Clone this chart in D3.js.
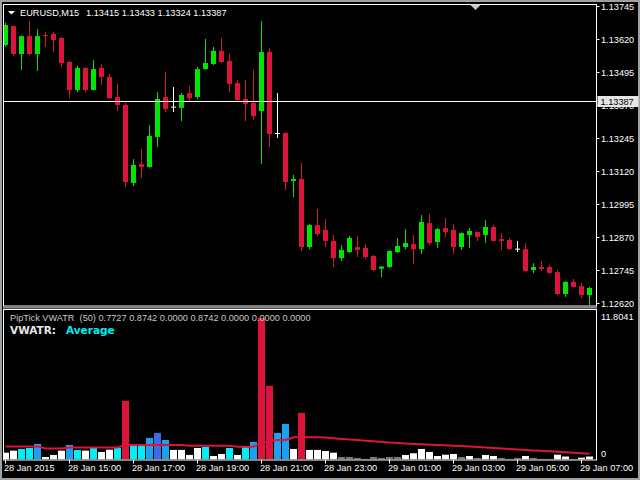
<!DOCTYPE html>
<html><head><meta charset="utf-8">
<script src="https://cdn.jsdelivr.net/npm/d3@7"></script>
<style>html,body{margin:0;padding:0;background:#000;overflow:hidden} text{white-space:pre}</style>
</head><body>
<svg id="c" width="640" height="480" xmlns="http://www.w3.org/2000/svg"></svg>
<script>
// ---------- DATA ----------
const times = [
"28.01 13:00","28.01 13:15","28.01 13:30","28.01 13:45","28.01 14:00","28.01 14:15","28.01 14:30","28.01 14:45",
"28.01 15:00","28.01 15:15","28.01 15:30","28.01 15:45","28.01 16:00","28.01 16:15","28.01 16:30","28.01 16:45",
"28.01 17:00","28.01 17:15","28.01 17:30","28.01 17:45","28.01 18:00","28.01 18:15","28.01 18:30","28.01 18:45",
"28.01 19:00","28.01 19:15","28.01 19:30","28.01 19:45","28.01 20:00","28.01 20:15","28.01 20:30","28.01 20:45",
"28.01 21:00","28.01 21:15","28.01 21:30","28.01 21:45","28.01 22:00","28.01 22:15","28.01 22:30","28.01 22:45",
"28.01 23:00","28.01 23:15","28.01 23:30","28.01 23:45","29.01 00:00","29.01 00:15","29.01 00:30","29.01 00:45",
"29.01 01:00","29.01 01:15","29.01 01:30","29.01 01:45","29.01 02:00","29.01 02:15","29.01 02:30","29.01 02:45",
"29.01 03:00","29.01 03:15","29.01 03:30","29.01 03:45","29.01 04:00","29.01 04:15","29.01 04:30","29.01 04:45",
"29.01 05:00","29.01 05:15","29.01 05:30","29.01 05:45","29.01 06:00","29.01 06:15","29.01 06:30","29.01 06:45",
"29.01 07:00","29.01 07:15"];

const open = [1.13597,1.13669,1.13563,1.13631,1.13563,1.13635,1.13639,1.13624,1.13533,1.13427,
1.13510,1.13427,1.13510,1.13476,1.13400,1.13370,1.13075,1.13146,1.13135,1.13249,
1.13400,1.13362,1.13359,1.13415,1.13400,1.13506,1.13525,1.13575,1.13537,1.13453,
1.13393,1.13378,1.13347,1.13571,1.13262,1.13264,1.13082,1.13090,1.12832,1.12915,
1.12897,1.12855,1.12790,1.12813,1.12832,1.12828,1.12798,1.12750,1.12756,1.12813,
1.12832,1.12843,1.12824,1.12923,1.12851,1.12904,1.12897,1.12832,1.12878,1.12889,
1.12878,1.12908,1.12862,1.12859,1.12824,1.12824,1.12745,1.12756,1.12756,1.12737,
1.12654,1.12700,1.12684,1.12650];

const high = [1.13681,1.13671,1.13633,1.13688,1.13658,1.13646,1.13646,1.13628,1.13537,1.13518,
1.13514,1.13540,1.13525,1.13487,1.13450,1.13378,1.13165,1.13203,1.13294,1.13419,
1.13495,1.13438,1.13415,1.13442,1.13514,1.13620,1.13590,1.13624,1.13563,1.13465,
1.13465,1.13503,1.13688,1.13586,1.13415,1.13266,1.13105,1.13150,1.12919,1.12976,
1.12938,1.12878,1.12840,1.12874,1.12874,1.12843,1.12802,1.12759,1.12819,1.12866,
1.12900,1.12878,1.12953,1.12957,1.12904,1.12942,1.12919,1.12887,1.12904,1.12890,
1.12934,1.12915,1.12885,1.12866,1.12855,1.12847,1.12771,1.12779,1.12764,1.12745,
1.12703,1.12711,1.12696,1.12681];

const low = [1.13590,1.13556,1.13503,1.13559,1.13499,1.13590,1.13571,1.13514,1.13396,1.13419,
1.13419,1.13425,1.13446,1.13393,1.13347,1.13059,1.13063,1.13094,1.13133,1.13211,
1.13343,1.13343,1.13309,1.13381,1.13393,1.13504,1.13521,1.13529,1.13419,1.13381,
1.13309,1.13313,1.13146,1.13211,1.13245,1.13048,1.13021,1.12817,1.12824,1.12874,
1.12832,1.12756,1.12779,1.12809,1.12794,1.12787,1.12741,1.12718,1.12754,1.12809,
1.12824,1.12768,1.12806,1.12840,1.12828,1.12870,1.12806,1.12821,1.12828,1.12855,
1.12847,1.12853,1.12821,1.12822,1.12813,1.12737,1.12733,1.12741,1.12730,1.12650,
1.12643,1.12679,1.12639,1.12612];

const close = [1.13673,1.13563,1.13631,1.13563,1.13631,1.13631,1.13616,1.13529,1.13427,1.13510,
1.13427,1.13506,1.13476,1.13396,1.13370,1.13078,1.13143,1.13135,1.13253,1.13393,
1.13355,1.13362,1.13408,1.13396,1.13506,1.13529,1.13575,1.13533,1.13450,1.13389,
1.13374,1.13328,1.13571,1.13260,1.13262,1.13078,1.13090,1.12832,1.12915,1.12881,
1.12855,1.12790,1.12821,1.12866,1.12821,1.12794,1.12745,1.12758,1.12817,1.12836,
1.12847,1.12824,1.12927,1.12847,1.12900,1.12889,1.12832,1.12885,1.12893,1.12870,
1.12908,1.12855,1.12855,1.12824,1.12824,1.12741,1.12756,1.12749,1.12734,1.12654,
1.12700,1.12681,1.12650,1.12677];

const vwatr = [0.57,0.74,0.88,0.96,1.30,0.21,0.38,0.74,1.21,0.80,
0.74,0.96,0.63,0.82,0.96,4.90,1.13,1.13,1.80,2.22,
1.63,0.80,0.80,0.38,0.96,1.05,0.29,0.46,0.96,0.38,
1.05,1.46,11.8041,6.15,2.22,2.97,0.88,3.89,0.80,0.80,
0.71,0.57,0.21,0.21,0.13,0.05,0.21,0.13,0.21,0.21,
0.38,0.52,0.88,0.63,0.29,0.40,0.46,0.21,0.29,0.13,
0.38,0.29,0.13,0.05,0.13,0.29,0.13,0.05,0.05,0.40,
0.25,0.05,0.15,0.25];

// volume level class of each histogram bar
const vwatrLevel = ["low","low","mid","mid","high","low","low","low","high","mid",
"low","mid","low","low","mid","extreme","mid","mid","high","veryhigh",
"high","low","low","low","low","mid","low","low","mid","low",
"mid","high","extreme","extreme","high","high","low","extreme","low","low",
"low","low","none","none","none","none","none","none","none","none",
"low","low","low","low","low","low","low","none","low","none",
"low","low","none","none","none","low","none","none","none","low",
"low","none","low","low"];

const average = [1.08,1.08,1.08,1.08,1.08,0.92,0.92,0.92,1.00,1.00,
1.00,1.00,1.00,1.00,1.00,1.20,1.20,1.20,1.20,1.20,
1.20,1.20,1.20,1.15,1.15,1.15,1.15,1.15,1.15,1.07,
1.07,1.07,1.40,1.55,1.63,1.63,1.86,1.86,1.86,1.86,
1.84,1.78,1.72,1.66,1.62,1.57,1.52,1.46,1.41,1.38,
1.34,1.30,1.27,1.24,1.21,1.18,1.15,1.12,1.08,1.04,
1.00,0.96,0.92,0.88,0.84,0.80,0.76,0.72,0.68,0.64,
0.60,0.56,0.52,0.47];

const priceTicks = [1.13745,1.13620,1.13495,1.13370,1.13245,1.13120,1.12995,1.12870,1.12745,1.12620];
const timeTickIndex = [0,8,16,24,32,40,48,56,64,72];
const timeTickLabels = ["28 Jan 2015","28 Jan 15:00","28 Jan 17:00","28 Jan 19:00","28 Jan 21:00",
"28 Jan 23:00","29 Jan 01:00","29 Jan 03:00","29 Jan 05:00","29 Jan 07:00"];
const hLinePrice = 1.13387;
const subMax = 11.8041;
const titleText = "EURUSD,M15";
const titleOHLC = "1.13415 1.13433 1.13324 1.13387";
const subTitle = "PipTick VWATR  (50) 0.7727 0.8742 0.0000 0.8742 0.0000 0.0000 0.0000";

// ---------- STYLE ----------
const FONT = "'Liberation Sans', Arial, sans-serif";
const bull = "#00e600", bear = "#dc143c", doji = "#ffffff";
const levelColor = {none:"#7a7a7a", low:"#ffffff", mid:"#00eef4", high:"#1ea0f0", veryhigh:"#4169e1", extreme:"#dc143c"};

const main = {x0:3, x1:596, y0:4, y1:306};
const sub  = {x0:3, x1:596, y0:309, y1:459.5};

const svg = d3.select("#c");
svg.append("rect").attr("width",640).attr("height",480).attr("fill","#000");

const n = times.length;
const x = d3.scaleLinear().domain([0, n-1]).range([5.5, 5.5 + 8*(n-1)]);
const y = d3.scaleLinear().domain([1.12620, 1.13745]).range([303, 6]);
const ys = d3.scaleLinear().domain([0, subMax]).range([459.5, 318]);

const defs = svg.append("defs");
defs.append("clipPath").attr("id","cm").append("rect")
  .attr("x",main.x0+0.5).attr("y",main.y0+0.5).attr("width",main.x1-main.x0-0.5).attr("height",main.y1-main.y0-0.5);
defs.append("clipPath").attr("id","cs").append("rect")
  .attr("x",sub.x0+0.5).attr("y",sub.y0+0.5).attr("width",sub.x1-sub.x0-0.5).attr("height",sub.y1-sub.y0-0.5);

// ---------- MAIN PANE ----------
const gm = svg.append("g").attr("clip-path","url(#cm)");
const bars = d3.range(n).map(i => ({i, o:open[i], h:high[i], l:low[i], c:close[i]}));
const col = d => d.c > d.o ? bull : (d.c < d.o ? bear : doji);

gm.selectAll("line.wick").data(bars).join("line").attr("class","wick")
  .attr("x1", d => x(d.i)).attr("x2", d => x(d.i))
  .attr("y1", d => y(d.h)).attr("y2", d => y(d.l))
  .attr("stroke", col).attr("stroke-width",1);

gm.selectAll("rect.body").data(bars.filter(d => d.o !== d.c)).join("rect").attr("class","body")
  .attr("x", d => x(d.i) - 2.5).attr("width", 5)
  .attr("y", d => y(Math.max(d.o,d.c)))
  .attr("height", d => Math.max(1, Math.abs(y(d.o) - y(d.c))))
  .attr("fill", col);

gm.selectAll("line.doji").data(bars.filter(d => d.o === d.c)).join("line").attr("class","doji")
  .attr("x1", d => x(d.i) - 2.5).attr("x2", d => x(d.i) + 2.5)
  .attr("y1", d => y(d.c)).attr("y2", d => y(d.c))
  .attr("stroke", doji).attr("stroke-width",1);

// horizontal line
const hy = Math.round(y(hLinePrice)) + 0.5;
svg.append("line").attr("x1",main.x0).attr("x2",main.x1).attr("y1",hy).attr("y2",hy)
  .attr("stroke","#ffffff").attr("stroke-width",1);

// ---------- SUB PANE ----------
const gs = svg.append("g").attr("clip-path","url(#cs)");
gs.selectAll("rect.hist").data(d3.range(n)).join("rect").attr("class","hist")
  .attr("x", i => x(i) - 3.5).attr("width", 7)
  .attr("y", i => ys(vwatr[i])).attr("height", i => ys(0) - ys(vwatr[i]))
  .attr("fill", i => levelColor[vwatrLevel[i]]);

gs.append("path").datum(d3.range(n))
  .attr("d", d3.line().x(i => x(i)).y(i => ys(average[i])))
  .attr("fill","none").attr("stroke","#dc143c").attr("stroke-width",2);

// ---------- FRAMES ----------
svg.append("rect").attr("x",main.x0+0.5).attr("y",main.y0+0.5)
  .attr("width",main.x1-main.x0).attr("height",main.y1-main.y0-0.5)
  .attr("fill","none").attr("stroke","#ffffff");
svg.append("rect").attr("x",sub.x0+0.5).attr("y",sub.y0+0.5)
  .attr("width",sub.x1-sub.x0).attr("height",sub.y1-sub.y0)
  .attr("fill","none").attr("stroke","#ffffff");
// window chrome
svg.append("rect").attr("x",0).attr("y",0).attr("width",640).attr("height",2).attr("fill","#a0a0a0");
svg.append("rect").attr("x",0).attr("y",0).attr("width",2).attr("height",480).attr("fill","#a0a0a0");
svg.append("rect").attr("x",0).attr("y",478).attr("width",640).attr("height",2).attr("fill","#a0a0a0");
svg.append("rect").attr("x",638).attr("y",0).attr("width",2).attr("height",480).attr("fill","#a0a0a0");
svg.append("rect").attr("x",main.x0).attr("y",307).attr("width",main.x1-main.x0+1).attr("height",1.5).attr("fill","#909090");

// chart shift marker
svg.append("path").attr("d","M470,4.5 L481,4.5 L475.5,10 Z").attr("fill","#c8c8c8");

// ---------- PRICE AXIS ----------
const ga = svg.append("g");
priceTicks.forEach(p => {
  const yy = Math.round(y(p)) + 0.5;
  ga.append("line").attr("x1",main.x1+0.5).attr("x2",main.x1+3.5).attr("y1",yy).attr("y2",yy).attr("stroke","#fff");
  ga.append("text").attr("x",601).attr("y",yy).attr("dy","0.35em")
    .attr("font-family",FONT).attr("font-size",9.2).attr("fill","#ffffff").text(d3.format(".5f")(p));
});
// horizontal line price label (covers the axis label beneath it, as in MetaTrader)
ga.append("rect").attr("x",597.5).attr("y",hy-5.5).attr("width",41).attr("height",11).attr("fill","#e6e6e6");
ga.append("text").attr("x",600.5).attr("y",hy).attr("dy","0.35em")
  .attr("font-family",FONT).attr("font-size",9.2).attr("fill","#000").text(d3.format(".5f")(hLinePrice));

// sub scale labels
ga.append("text").attr("x",601).attr("y",ys(subMax)-1).attr("dy","0.35em")
  .attr("font-family",FONT).attr("font-size",9.2).attr("fill","#fff").text(d3.format(".4f")(subMax));
ga.append("text").attr("x",601).attr("y",ys(0)-6).attr("dy","0.35em")
  .attr("font-family",FONT).attr("font-size",9.2).attr("fill","#fff").text("0");

// ---------- TIME AXIS ----------
timeTickIndex.forEach((idx, k) => {
  const xx = Math.floor(x(idx)) + 0.5;
  ga.append("line").attr("x1",xx).attr("x2",xx).attr("y1",sub.y1).attr("y2",sub.y1+4).attr("stroke","#fff");
  ga.append("text").attr("x",xx-1.5).attr("y",468).attr("dy","0.35em")
    .attr("font-family",FONT).attr("font-size",9.2).attr("fill","#fff").text(timeTickLabels[k]);
});

// ---------- TITLES ----------
svg.append("path").attr("d","M8,11 L15,11 L11.5,14.5 Z").attr("fill","#ffffff");
svg.append("text").attr("x",20).attr("y",12.5).attr("dy","0.35em")
  .attr("font-family",FONT).attr("font-size",9.2).attr("fill","#fff").text(titleText);
svg.append("text").attr("x",86).attr("y",12.5).attr("dy","0.35em")
  .attr("font-family",FONT).attr("font-size",9.2).attr("fill","#fff").text(titleOHLC);

svg.append("text").attr("x",10).attr("y",318).attr("dy","0.35em").attr("xml:space","preserve")
  .attr("font-family",FONT).attr("font-size",9.2).attr("fill","#c8c8c8").text(subTitle);
const t2 = svg.append("text").attr("x",10).attr("y",330.5).attr("dy","0.35em")
  .attr("font-family","'DejaVu Sans', sans-serif").attr("font-size",10.5).attr("font-weight","bold");
t2.append("tspan").attr("fill","#e8e8e8").text("VWATR:");
t2.append("tspan").attr("x",66).attr("fill","#00eef4").text("Average");
</script>
</body></html>
